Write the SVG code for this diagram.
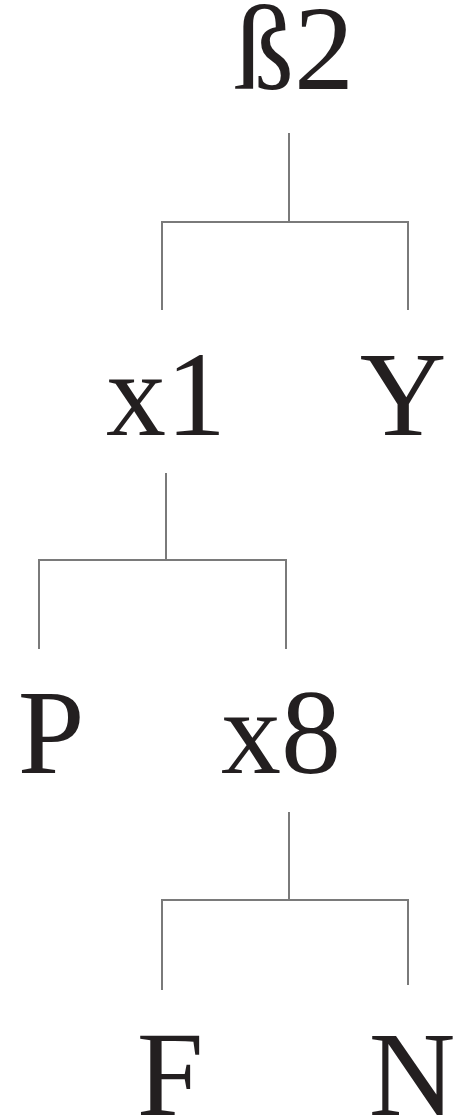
<svg xmlns="http://www.w3.org/2000/svg" width="454" height="1117" viewBox="0 0 454 1117">
<style>
.t{font-family:"Liberation Serif","DejaVu Serif",serif;font-size:120px;fill:#231f20;text-anchor:middle}
.c{stroke:#7a7a7a;stroke-width:2;fill:none}
</style>
<rect width="454" height="1117" fill="#fff"/>
<g id="connectors">
<path class="c" d="M289 133V222M162 310V222H408V310"/>
<path class="c" d="M166 473V560M39 649V560H286V649"/>
<path class="c" d="M289 812V900M162 990V900H408V985"/>
</g>
<g id="n-b2"><text class="t" x="294" y="89">ß2</text></g>
<g id="n-x1"><text class="t" x="166" y="435">x1</text></g>
<g id="n-Y"><text class="t" x="403" y="435">Y</text></g>
<g id="n-P"><text class="t" x="51" y="773">P</text></g>
<g id="n-x8"><text class="t" x="281" y="773">x8</text></g>
<g id="n-F"><text class="t" x="170" y="1115">F</text></g>
<g id="n-N"><text class="t" x="412" y="1115">N</text></g>
</svg>
